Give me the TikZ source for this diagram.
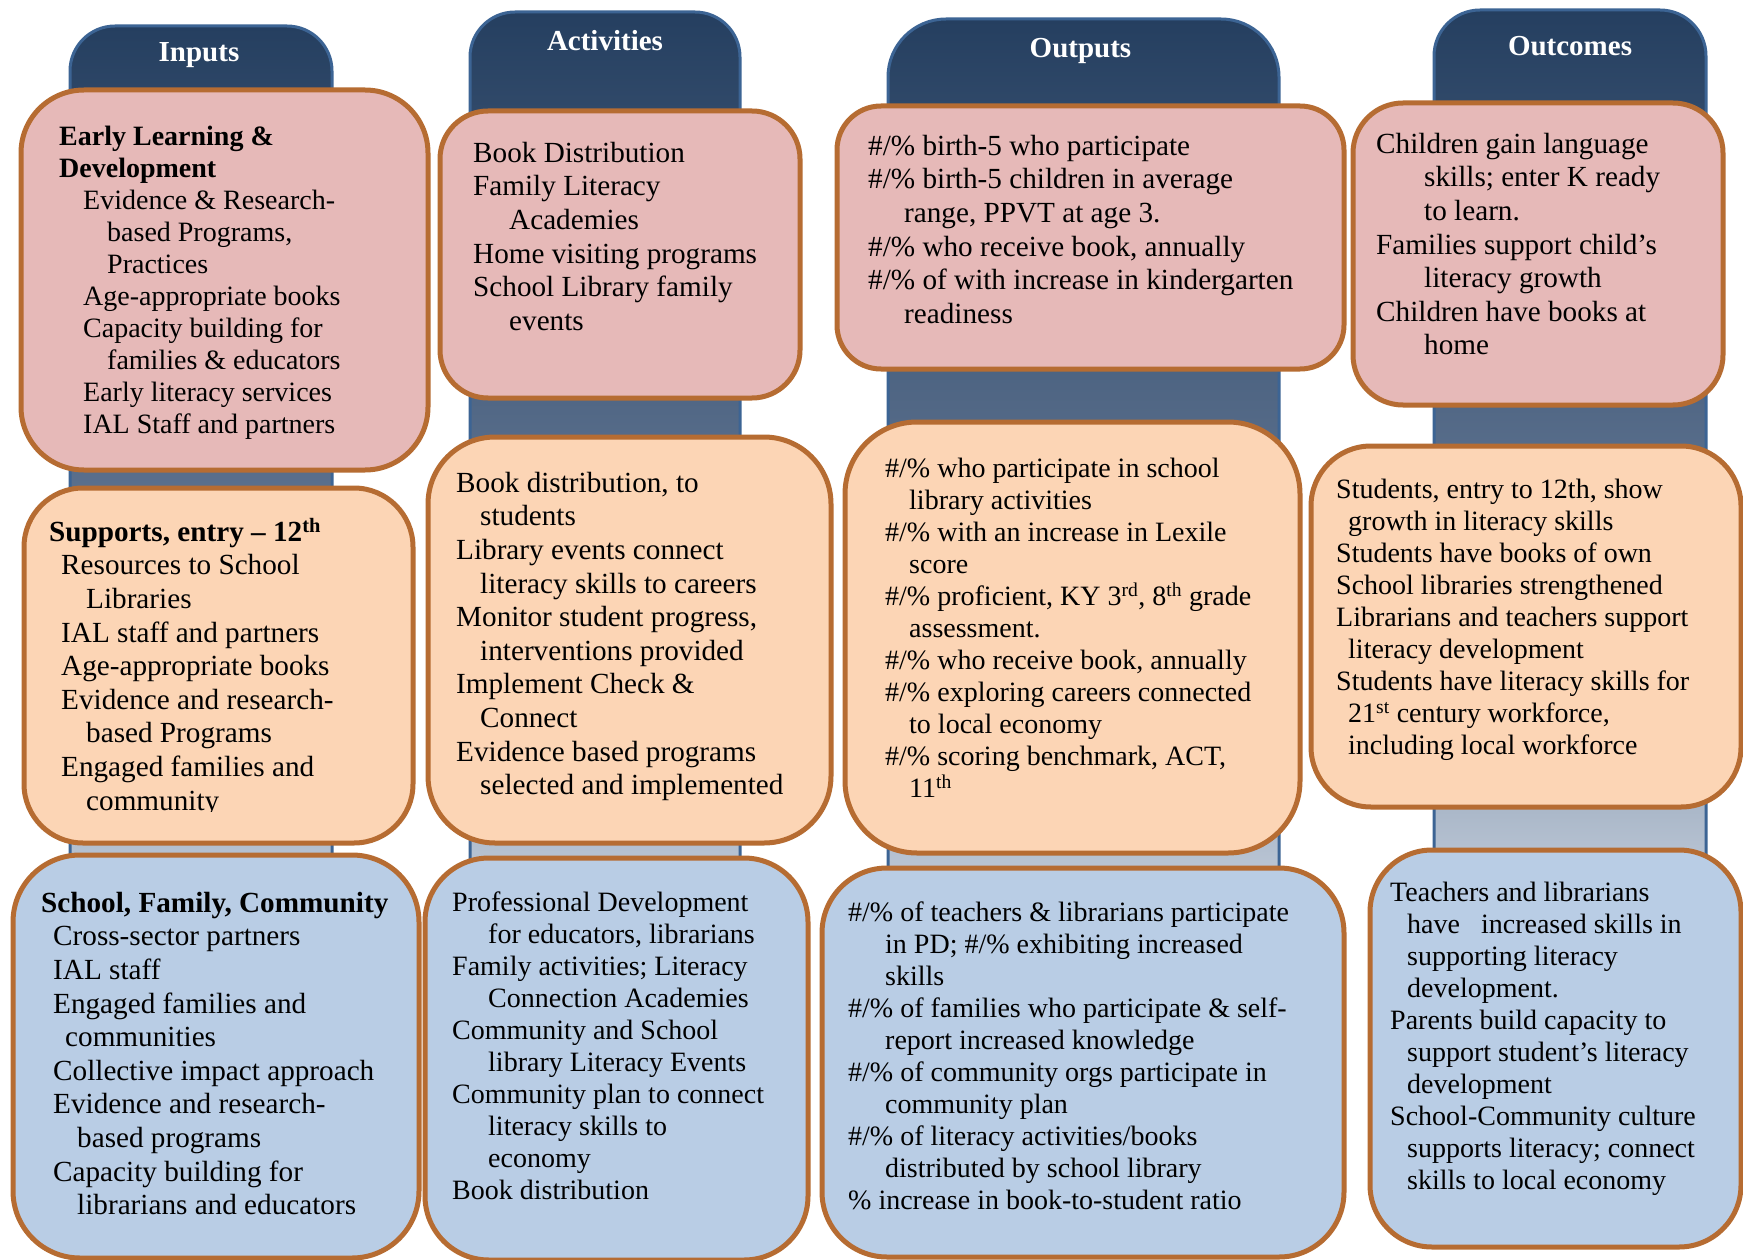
\documentclass[tikz,border=0pt]{standalone}
\usepackage{fontspec}
\setmainfont{Liberation Serif}
\usetikzlibrary{calc,positioning}

\definecolor{navy}{RGB}{37,63,96}
\definecolor{midnavy}{RGB}{93,114,143}
\definecolor{paleblue}{RGB}{219,227,237}
\definecolor{colline}{RGB}{60,100,148}
\definecolor{boxline}{RGB}{182,108,50}
\definecolor{rose}{RGB}{230,185,184}
\definecolor{peach}{RGB}{252,213,181}
\definecolor{sky}{RGB}{185,205,229}

\newcommand{\rowstrut}{\rule{0pt}{28pt}}

\begin{document}
\begin{tikzpicture}[x=1pt, y=-1pt,
column/.style={draw=colline, line width=3pt, top color=navy, bottom color=paleblue, middle color=midnavy, inner sep=0pt, anchor=north west},
head/.style={text=white, font=\fontsize{29}{33}\selectfont\bfseries, anchor=base},
box/.style={draw=boxline, line width=5pt, inner sep=0pt, anchor=north west},
early/.style={box, fill=rose},
grade/.style={box, fill=peach},
comm/.style={box, fill=sky},
txt/.style={inner sep=0pt, align=left, font=\fontsize{28}{32}\selectfont},
wide/.style={txt, font=\fontsize{29.2}{33.6}\selectfont}
]
\useasboundingbox[fill=white] (0,0) rectangle (1743,1260);

% columns
\node[column, rounded corners=45pt, minimum width=262pt, minimum height=975pt] (inCol) at (68.5,24.5) {};
\node[column, rounded corners=45pt, minimum width=270pt, minimum height=990pt] (actCol) at (468.5,10.5) {};
\node[column, rounded corners=58pt, minimum width=391pt, minimum height=982pt] (outCol) at (886.5,17.5) {};
\node[column, rounded corners=46pt, minimum width=272pt, minimum height=990pt] (resCol) at (1432.5,8.5) {};
\node[head] (inHead) at ($(inCol.north)+(-2,37)$) {Inputs};
\node[head] (actHead) at ($(actCol.north)+(0,40.5)$) {Activities};
\node[head] (outHead) at ($(outCol.north)+(-3,40)$) {Outputs};
\node[head] (resHead) at ($(resCol.north)+(0,47)$) {Outcomes};

% early learning row
\node[early, rounded corners=63pt, minimum width=407pt, minimum height=380pt] (inEarly) at (18.5,87.5) {};
\node[early, rounded corners=48pt, minimum width=360pt, minimum height=287pt] (actEarly) at (437.5,108.5) {};
\node[early, rounded corners=44pt, minimum width=507pt, minimum height=263pt] (outEarly) at (834.5,103.5) {};
\node[early, rounded corners=50pt, minimum width=370pt, minimum height=302pt] (resEarly) at (1350.5,100.5) {};

\node[txt, below right=29.5pt and 40.5pt of inEarly.north west] (inEarlyTxt) {
    \rowstrut\textbf{Early Learning \&}\\
    \textbf{Development}\\
    \hspace*{24pt}Evidence \& Research-\\
    \hspace*{48pt}based Programs,\\
    \hspace*{48pt}Practices\\
    \hspace*{24pt}Age-appropriate books\\
    \hspace*{24pt}Capacity building for\\
    \hspace*{48pt}families \& educators\\
    \hspace*{24pt}Early literacy services\\
    \hspace*{24pt}IAL Staff and partners
};
\node[wide, below right=25.5pt and 35.5pt of actEarly.north west] (actEarlyTxt) {
    \rowstrut Book Distribution\\
    Family Literacy\\
    \hspace*{36pt}Academies\\
    Home visiting programs\\
    School Library family\\
    \hspace*{36pt}events
};
\node[wide, below right=23.5pt and 33.5pt of outEarly.north west] (outEarlyTxt) {
    \rowstrut\#/\% birth-5 who participate\\
    \#/\% birth-5 children in average\\
    \hspace*{36pt}range, PPVT at age 3.\\
    \#/\% who receive book, annually\\
    \#/\% of with increase in kindergarten\\
    \hspace*{36pt}readiness
};
\node[wide, below right=24.5pt and 25.5pt of resEarly.north west] (resEarlyTxt) {
    \rowstrut Children gain language\\
    \hspace*{48pt}skills; enter K ready\\
    \hspace*{48pt}to learn.\\
    Families support child’s\\
    \hspace*{48pt}literacy growth\\
    Children have books at\\
    \hspace*{48pt}home
};

% entry to 12th row
\node[grade, rounded corners=59pt, minimum width=389pt, minimum height=355pt] (inGrade) at (21.5,485.5) {};
\node[grade, rounded corners=67pt, minimum width=403pt, minimum height=406pt] (actGrade) at (425.5,434.5) {};
\node[grade, rounded corners=72pt, minimum width=455pt, minimum height=431pt] (outGrade) at (842.5,419.5) {};
\node[grade, rounded corners=60pt, minimum width=430pt, minimum height=361pt] (resGrade) at (1308.5,443.5) {};

\begin{scope}
\clip (0,0) rectangle (1743,811);
\node[wide, below right=27.5pt and 27.5pt of inGrade.north west] (inGradeTxt) {
    \rowstrut\textbf{Supports, entry -- 12\textsuperscript{th}}\\
    \hspace*{12pt}Resources to School\\
    \hspace*{37pt}Libraries\\
    \hspace*{12pt}IAL staff and partners\\
    \hspace*{12pt}Age-appropriate books\\
    \hspace*{12pt}Evidence and research-\\
    \hspace*{37pt}based Programs\\
    \hspace*{12pt}Engaged families and\\
    \hspace*{37pt}community
};
\end{scope}
\node[wide, below right=29.5pt and 30.5pt of actGrade.north west] (actGradeTxt) {
    \rowstrut Book distribution, to\\
    \hspace*{24pt}students\\
    Library events connect\\
    \hspace*{24pt}literacy skills to careers\\
    Monitor student progress,\\
    \hspace*{24pt}interventions provided\\
    Implement Check \&\\
    \hspace*{24pt}Connect\\
    Evidence based programs\\
    \hspace*{24pt}selected and implemented
};
\node[txt, below right=29.5pt and 42.5pt of outGrade.north west] (outGradeTxt) {
    \rowstrut\#/\% who participate in school\\
    \hspace*{24pt}library activities\\
    \#/\% with an increase in Lexile\\
    \hspace*{24pt}score\\
    \#/\% proficient, KY 3\textsuperscript{rd}, 8\textsuperscript{th} grade\\
    \hspace*{24pt}assessment.\\
    \#/\% who receive book, annually\\
    \#/\% exploring careers connected\\
    \hspace*{24pt}to local economy\\
    \#/\% scoring benchmark, ACT,\\
    \hspace*{24pt}11\textsuperscript{th}
};
\node[txt, below right=26.5pt and 27.5pt of resGrade.north west] (resGradeTxt) {
    \rowstrut Students, entry to 12th, show\\
    \hspace*{12pt}growth in literacy skills\\
    Students have books of own\\
    School libraries strengthened\\
    Librarians and teachers support\\
    \hspace*{12pt}literacy development\\
    Students have literacy skills for\\
    \hspace*{12pt}21\textsuperscript{st} century workforce,\\
    \hspace*{12pt}including local workforce
};

% school, family, community row
\node[comm, rounded corners=67pt, minimum width=406pt, minimum height=403pt] (inComm) at (10.5,852.5) {};
\node[comm, rounded corners=64pt, minimum width=383pt, minimum height=402pt] (actComm) at (422.5,855.5) {};
\node[comm, rounded corners=65pt, minimum width=522pt, minimum height=389pt] (outComm) at (819.5,865.5) {};
\node[comm, rounded corners=62pt, minimum width=371pt, minimum height=397pt] (resComm) at (1367.5,847.5) {};

\node[wide, below right=31.5pt and 30.5pt of inComm.north west] (inCommTxt) {
    \rowstrut\textbf{School, Family, Community}\\
    \hspace*{12pt}Cross-sector partners\\
    \hspace*{12pt}IAL staff\\
    \hspace*{12pt}Engaged families and\\
    \hspace*{24pt}communities\\
    \hspace*{12pt}Collective impact approach\\
    \hspace*{12pt}Evidence and research-\\
    \hspace*{36pt}based programs\\
    \hspace*{12pt}Capacity building for\\
    \hspace*{36pt}librarians and educators
};
\node[txt, below right=27.5pt and 29.5pt of actComm.north west] (actCommTxt) {
    \rowstrut Professional Development\\
    \hspace*{36pt}for educators, librarians\\
    Family activities; Literacy\\
    \hspace*{36pt}Connection Academies\\
    Community and School\\
    \hspace*{36pt}library Literacy Events\\
    Community plan to connect\\
    \hspace*{36pt}literacy skills to\\
    \hspace*{36pt}economy\\
    Book distribution
};
\node[txt, below right=27.5pt and 28.5pt of outComm.north west] (outCommTxt) {
    \rowstrut\#/\% of teachers \& librarians participate\\
    \hspace*{37pt}in PD; \#/\% exhibiting increased\\
    \hspace*{37pt}skills\\
    \#/\% of families who participate \& self-\\
    \hspace*{37pt}report increased knowledge\\
    \#/\% of community orgs participate in\\
    \hspace*{37pt}community plan\\
    \#/\% of literacy activities/books\\
    \hspace*{37pt}distributed by school library\\
    \% increase in book-to-student ratio
};
\node[txt, below right=25.5pt and 22.5pt of resComm.north west] (resCommTxt) {
    \rowstrut Teachers and librarians\\
    \hspace*{17pt}have\ \ \ increased skills in\\
    \hspace*{17pt}supporting literacy\\
    \hspace*{17pt}development.\\
    Parents build capacity to\\
    \hspace*{17pt}support student’s literacy\\
    \hspace*{17pt}development\\
    School-Community culture\\
    \hspace*{17pt}supports literacy; connect\\
    \hspace*{17pt}skills to local economy
};
\end{tikzpicture}
\end{document}
